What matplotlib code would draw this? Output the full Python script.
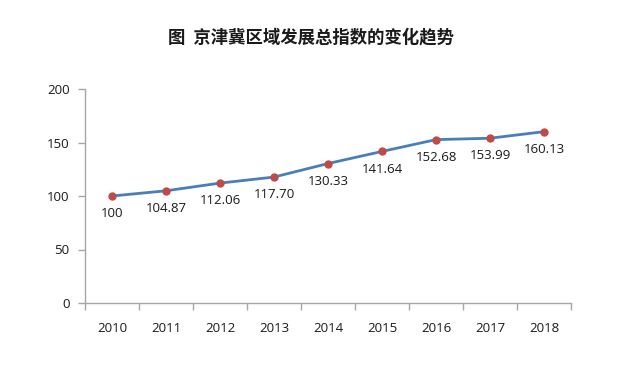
import matplotlib
matplotlib.use("Agg")
import matplotlib.pyplot as plt
import numpy as np

years = ["2010", "2011", "2012", "2013", "2014", "2015", "2016", "2017", "2018"]
values = [100, 104.87, 112.06, 117.70, 130.33, 141.64, 152.68, 153.99, 160.13]
labels = ["100", "104.87", "112.06", "117.70", "130.33", "141.64", "152.68", "153.99", "160.13"]
title = "图  京津冀区域发展总指数的变化趋势"

plt.rcParams['font.family'] = ['Open Sans', 'DejaVu Sans']

fig = plt.figure(figsize=(6.38, 3.68), dpi=100)
ax = fig.add_axes([85/638, 65/368, (571-85)/638, (303-89)/368])

x = np.arange(len(years))
ax.plot(x, values, color='#4a7ebb', lw=2.0, marker='o', markersize=5,
        markerfacecolor='#be4b48', markeredgecolor='#be4b48', zorder=3)
for xi, v, lab in zip(x, values, labels):
    ax.annotate(lab, (xi, v), xytext=(0, -8), textcoords='offset points',
                ha='center', va='top', fontsize=9.5, color='#1a1a1a')

ax.set_xlim(-0.5, len(years) - 0.5)
ax.set_ylim(0, 200)
ax.set_yticks([0, 50, 100, 150, 200])
ax.set_xticks(x)
ax.set_xticklabels(years)
ax.set_xticks(np.arange(-0.5, len(years), 1), minor=True)
ax.tick_params(axis='x', which='major', length=0, pad=14, labelsize=9.5, labelcolor='#1a1a1a')
ax.tick_params(axis='x', which='minor', length=5, color='#a6a6a6', width=1)
ax.tick_params(axis='y', length=5, color='#a6a6a6', width=1, labelsize=9.5, labelcolor='#1a1a1a', pad=6)
for s in ['top', 'right']:
    ax.spines[s].set_visible(False)
for s in ['left', 'bottom']:
    ax.spines[s].set_color('#a6a6a6')
    ax.spines[s].set_linewidth(1)

fig.text(311/638, 1 - 37/368, title, ha='center', va='center', fontsize=12.5,
         fontweight='bold', family=['Noto Sans CJK SC', 'DejaVu Sans'], color='#1a1a1a')

fig.savefig('out.png', dpi=100)
